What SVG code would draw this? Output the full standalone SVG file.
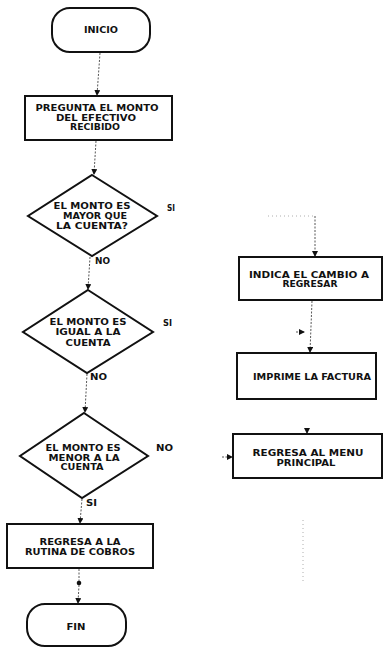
<svg xmlns="http://www.w3.org/2000/svg" width="385" height="649" viewBox="0 0 385 649">
<style>
.shape{fill:#fff;stroke:#111;stroke-width:2;}
.t{font-family:"DejaVu Sans","Liberation Sans",Arial,sans-serif;font-weight:bold;font-size:8px;fill:#111;text-anchor:middle;}
.c{fill:none;stroke:#444;stroke-width:0.9;stroke-dasharray:2 1.5;}
.cf{fill:none;stroke:#999;stroke-width:0.8;stroke-dasharray:1 3;}
</style>
<defs>
<marker id="a" markerWidth="6" markerHeight="6" refX="5" refY="3" orient="auto" markerUnits="userSpaceOnUse"><path d="M0,0 L6,3 L0,6 z" fill="#111"/></marker>
</defs>
<g id="connectors">
<path class="c" d="M100,53 L97,95" marker-end="url(#a)"/>
<path class="c" d="M96,141 L94,174" marker-end="url(#a)"/>
<path class="c" d="M90,257 L88,289" marker-end="url(#a)"/>
<path class="c" d="M87,374 L85,412" marker-end="url(#a)"/>
<path class="c" d="M82,499 L80,523" marker-end="url(#a)"/>
<path class="c" d="M79,569 L79,581"/>
<circle cx="79" cy="583" r="2.3" fill="#111"/>
<path class="c" d="M79,585 L78,603" marker-end="url(#a)"/>
<path class="cf" d="M268,216 L315,216"/>
<path class="c" d="M315,216 L315,256" marker-end="url(#a)"/>
<path class="c" d="M312,301 L310,352" marker-end="url(#a)"/>
<path class="c" d="M296,332 L304,332" marker-end="url(#a)"/>
<path class="c" d="M307,428 L307,433" marker-end="url(#a)"/>
<path class="c" d="M222,457 L232,457" marker-end="url(#a)"/>
<path class="cf" d="M303,520 L303,583"/>
</g>
<g id="inicio">
<rect class="shape" x="52" y="8" width="98" height="44" rx="18"/>
<text class="t" x="101" y="33" textLength="34" lengthAdjust="spacingAndGlyphs">INICIO</text>
</g>
<g id="pregunta">
<rect class="shape" x="25" y="96" width="147" height="44"/>
<text class="t" x="97" y="111" textLength="123" lengthAdjust="spacingAndGlyphs">PREGUNTA EL MONTO</text>
<text class="t" x="96" y="120.5" textLength="80" lengthAdjust="spacingAndGlyphs">DEL EFECTIVO</text>
<text class="t" x="95" y="130" textLength="50" lengthAdjust="spacingAndGlyphs">RECIBIDO</text>
</g>
<g id="mayor">
<polygon class="shape" points="92,175 157,216 92,256 28,216"/>
<text class="t" x="92" y="209" textLength="77" lengthAdjust="spacingAndGlyphs">EL MONTO ES</text>
<text class="t" x="95" y="219" textLength="64" lengthAdjust="spacingAndGlyphs">MAYOR QUE</text>
<text class="t" x="92" y="229" textLength="72" lengthAdjust="spacingAndGlyphs">LA CUENTA?</text>
<text class="t" x="171" y="211" textLength="8" lengthAdjust="spacingAndGlyphs">SI</text>
<text class="t" x="102.5" y="264" textLength="15" lengthAdjust="spacingAndGlyphs">NO</text>
</g>
<g id="igual">
<polygon class="shape" points="88,290 153,332 87,373 23,332"/>
<text class="t" x="88" y="325" textLength="77" lengthAdjust="spacingAndGlyphs">EL MONTO ES</text>
<text class="t" x="88" y="335" textLength="65" lengthAdjust="spacingAndGlyphs">IGUAL A LA</text>
<text class="t" x="88" y="346" textLength="45" lengthAdjust="spacingAndGlyphs">CUENTA</text>
<text class="t" x="167.5" y="326" textLength="9" lengthAdjust="spacingAndGlyphs">SI</text>
<text class="t" x="98.5" y="380" textLength="17" lengthAdjust="spacingAndGlyphs">NO</text>
</g>
<g id="menor">
<polygon class="shape" points="84,413 148,456 82,498 20,456"/>
<text class="t" x="83" y="451" textLength="75" lengthAdjust="spacingAndGlyphs">EL MONTO ES</text>
<text class="t" x="84" y="461" textLength="71" lengthAdjust="spacingAndGlyphs">MENOR A LA</text>
<text class="t" x="82" y="470" textLength="43" lengthAdjust="spacingAndGlyphs">CUENTA</text>
<text class="t" x="164.5" y="451" textLength="17" lengthAdjust="spacingAndGlyphs">NO</text>
<text class="t" x="91.5" y="506" textLength="11" lengthAdjust="spacingAndGlyphs">SI</text>
</g>
<g id="rutina">
<rect class="shape" x="7" y="524" width="146" height="44"/>
<text class="t" x="80" y="545" textLength="81" lengthAdjust="spacingAndGlyphs">REGRESA A LA</text>
<text class="t" x="80" y="555" textLength="110" lengthAdjust="spacingAndGlyphs">RUTINA DE COBROS</text>
</g>
<g id="fin">
<rect class="shape" x="27" y="604" width="99" height="42" rx="18"/>
<text class="t" x="76" y="630" textLength="19" lengthAdjust="spacingAndGlyphs">FIN</text>
</g>
<g id="indica">
<rect class="shape" x="239" y="257" width="143" height="43"/>
<text class="t" x="309" y="278" textLength="120" lengthAdjust="spacingAndGlyphs">INDICA EL CAMBIO A</text>
<text class="t" x="310" y="287" textLength="55" lengthAdjust="spacingAndGlyphs">REGRESAR</text>
</g>
<g id="imprime">
<rect class="shape" x="237" y="353" width="139" height="46"/>
<text class="t" x="312" y="380" textLength="118" lengthAdjust="spacingAndGlyphs">IMPRIME LA FACTURA</text>
</g>
<g id="menu">
<rect class="shape" x="233" y="434" width="149" height="44"/>
<text class="t" x="308" y="456" textLength="111" lengthAdjust="spacingAndGlyphs">REGRESA AL MENU</text>
<text class="t" x="306" y="466" textLength="59" lengthAdjust="spacingAndGlyphs">PRINCIPAL</text>
</g>
</svg>
